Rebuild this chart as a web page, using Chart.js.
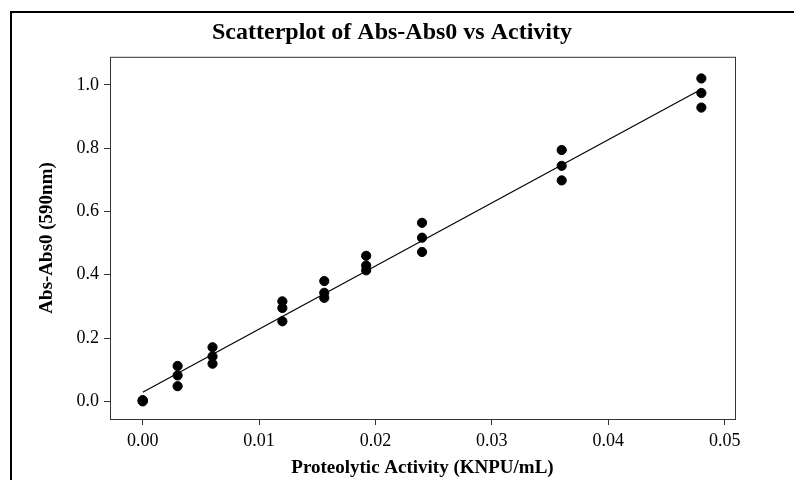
<!DOCTYPE html>
<html>
<head>
<meta charset="utf-8">
<script src="https://cdn.jsdelivr.net/npm/chart.js@4/dist/chart.umd.min.js"></script>
<style>
  body { margin: 0; background: #fff; }
  #wrap { width: 794px; height: 480px; }
</style>
</head>
<body>
<div id="wrap"><canvas id="scatter" width="794" height="480"></canvas></div>
<script>
// activity levels (KNPU/mL) and three replicate readings at each
const activity = [0, 0.003, 0.006, 0.012, 0.0156, 0.0192, 0.024, 0.036, 0.048];
const rep1 = [0.000, 0.112, 0.171, 0.316, 0.380, 0.460, 0.564, 0.794, 1.020];
const rep2 = [0.002, 0.082, 0.142, 0.295, 0.343, 0.429, 0.517, 0.744, 0.974];
const rep3 = [0.004, 0.048, 0.119, 0.253, 0.327, 0.414, 0.472, 0.698, 0.928];

// fitted line end points
const fitX = [0, 0.048];
const fitY = [0.029, 0.986];

const xTicks = [0, 0.01, 0.02, 0.03, 0.04, 0.05];
const yTicks = [0, 0.2, 0.4, 0.6, 0.8, 1.0];

let points = [];
[rep1, rep2, rep3].forEach(function (rep) {
    activity.forEach(function (x, i) {
        points.push({x: x, y: rep[i]});
    });
});
let fitLine = fitX.map(function (x, i) { return {x: x, y: fitY[i]}; });

const frame = {
    id: 'frame',
    beforeDraw(chart) {
        let ctx = chart.ctx;
        ctx.save();
        ctx.fillStyle = '#fff';
        ctx.fillRect(0, 0, chart.width, chart.height);
        ctx.strokeStyle = '#000';
        ctx.lineWidth = 2;
        ctx.beginPath();
        ctx.moveTo(11, chart.height);
        ctx.lineTo(11, 12);
        ctx.lineTo(chart.width, 12);
        ctx.stroke();
        ctx.restore();
    },
    afterDatasetsDraw(chart) {
        let a = chart.chartArea;
        let ctx = chart.ctx;
        ctx.save();
        ctx.strokeStyle = '#333';
        ctx.lineWidth = 1;
        ctx.strokeRect(a.left + 0.5, a.top + 0.5, a.right - a.left, a.bottom - a.top);
        ctx.restore();
    }
};

const serif = "'Liberation Serif', 'Times New Roman', serif";

new Chart(document.getElementById('scatter').getContext('2d'), {
    type: 'scatter',
    data: {
        datasets: [{
            data: fitLine,
            showLine: true,
            borderColor: '#000',
            borderWidth: 1.2,
            pointRadius: 0,
            order: 2
        }, {
            data: points,
            backgroundColor: '#000',
            borderColor: '#000',
            pointRadius: 4.6,
            order: 1
        }]
    },
    options: {
        responsive: false,
        animation: false,
        layout: {
            padding: {left: 0, right: 10, top: 0, bottom: 0}
        },
        plugins: {
            legend: {display: false},
            tooltip: {enabled: false},
            title: {
                display: true,
                text: 'Scatterplot of Abs-Abs0 vs Activity',
                color: '#000',
                font: {family: serif, size: 24, weight: 'bold'},
                padding: {top: 18, bottom: 10}
            }
        },
        scales: {
            x: {
                type: 'linear',
                min: -0.00281,
                max: 0.05089,
                afterBuildTicks: function (scale) {
                    scale.ticks = xTicks.map(function (v) { return {value: v}; });
                },
                afterFit: function (scale) { scale.height = 61; },
                ticks: {
                    color: '#000',
                    font: {family: serif, size: 18},
                    padding: 5,
                    maxRotation: 0,
                    callback: function (v) { return v.toFixed(2); }
                },
                grid: {drawOnChartArea: false, tickLength: 6, color: '#333'},
                border: {display: false},
                title: {
                    display: true,
                    text: 'Proteolytic Activity (KNPU/mL)',
                    color: '#000',
                    font: {family: serif, size: 19, weight: 'bold'},
                    padding: {top: 2, bottom: 1}
                }
            },
            y: {
                type: 'linear',
                min: -0.0556,
                max: 1.0884,
                afterBuildTicks: function (scale) {
                    scale.ticks = yTicks.map(function (v) { return {value: v}; });
                },
                afterFit: function (scale) { scale.width = 110; },
                ticks: {
                    color: '#000',
                    font: {family: serif, size: 18},
                    padding: 5,
                    callback: function (v) { return v.toFixed(1); }
                },
                grid: {drawOnChartArea: false, tickLength: 6, color: '#333'},
                border: {display: false},
                title: {
                    display: true,
                    text: 'Abs-Abs0 (590nm)',
                    color: '#000',
                    font: {family: serif, size: 19, weight: 'bold'},
                    padding: {top: 36, bottom: 0}
                }
            },
            // empty right-hand strip so the title centres over the whole frame
            spacer: {
                type: 'linear',
                position: 'right',
                display: true,
                ticks: {display: false},
                grid: {display: false},
                border: {display: false},
                afterFit: function (scale) { scale.width = 49; }
            }
        }
    },
    plugins: [frame]
});
</script>
</body>
</html>
